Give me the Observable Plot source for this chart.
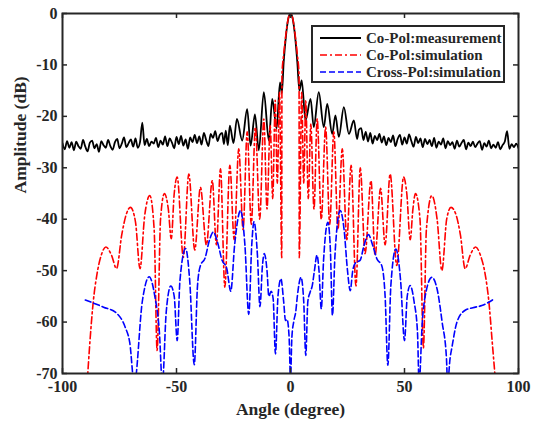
<!DOCTYPE html>
<html><head><meta charset="utf-8">
<script src="https://cdn.jsdelivr.net/npm/d3@7"></script>
<script src="https://cdn.jsdelivr.net/npm/@observablehq/plot@0.6"></script>
<style>
body{margin:0;background:#fff;}
#wrap{position:relative;width:538px;height:427px;}
#legend{position:absolute;left:311px;top:25px;}
</style></head><body><div id="wrap"></div>
<script>
// ---- data ----
const xTicks = [-100, -50, 0, 50, 100];
const yTicks = [0, -10, -20, -30, -40, -50, -60, -70];
const seriesNames = ["Co-Pol:measurement", "Co-Pol:simulation", "Cross-Pol:simulation"];

// measurement, -100 .. -31 (1 deg grid)
const blackLeftDb = [
  -25.2,-26.4,-24.8,-26.1,-25.0,-26.6,-24.9,-25.8,-26.3,-24.6,
  -25.9,-26.8,-25.1,-24.7,-26.2,-25.4,-26.9,-24.8,-25.6,-26.1,
  -24.6,-25.8,-26.5,-25.0,-24.4,-26.2,-25.3,-24.1,-26.0,-25.2,
  -24.5,-25.9,-24.3,-26.1,-25.0,-21.2,-25.6,-24.4,-25.8,-24.9,
  -25.3,-24.2,-26.0,-24.7,-25.5,-23.9,-25.8,-24.3,-25.1,-26.2,
  -24.0,-25.4,-23.8,-25.7,-24.5,-26.3,-24.1,-25.0,-23.6,-25.2,
  -23.9,-25.5,-23.2,-24.6,-25.8,-23.4,-24.2,-22.9,-24.8,-23.6
];
// measurement, central region
const blackCenterAngle = [-30,-29.2,-28.4,-27.5,-26.6,-25,-23.5,-21.2,-19,-17.5,-15.6,-13.9,-11.7,-9.5,-8,-6.1,-4.6,-3.8,-3,-2,-1,0,1,2,3,3.9,4.9,6.6,8.8,10.2,12.4,14.6,16.1,18.3,19.7,21.2,23.4,25.6,27.8,29.2,30];
const blackCenterDb = [-23.2,-25.4,-22.8,-25.6,-21.8,-25.2,-20.5,-24.7,-18.6,-25.7,-19.6,-26.6,-15.3,-24.7,-16.6,-22.4,-13.4,-15.5,-9.5,-4.4,-1.1,0,-1.1,-4.4,-9.5,-15.0,-13.0,-20.8,-16.6,-22.1,-15.3,-22.1,-17.6,-23.4,-19.8,-24.0,-18.2,-23.4,-20.8,-24.4,-22.6];
// measurement, 31 .. 100 (1 deg grid)
const blackRightDb = [
  -22.3,-24.6,-23.0,-24.9,-23.2,-25.3,-23.8,-24.6,-23.4,-25.1,
  -23.9,-25.6,-24.2,-25.0,-23.7,-25.8,-24.4,-23.6,-25.5,-24.1,
  -25.3,-23.5,-24.8,-25.9,-24.0,-25.2,-24.3,-26.0,-24.4,-25.4,
  -24.6,-25.8,-24.2,-26.1,-24.9,-25.5,-24.3,-26.2,-24.8,-25.6,
  -25.0,-26.3,-24.7,-25.9,-25.2,-24.6,-26.4,-25.1,-25.8,-24.9,
  -26.0,-25.3,-24.8,-26.5,-25.2,-25.9,-24.7,-26.2,-25.5,-26.1,
  -25.0,-26.4,-25.6,-24.9,-22.9,-26.3,-25.4,-26.0,-25.3,-26.2
];

// co-pol simulation [angle, dB]
const redPts = [[-89.2,-72],[-88,-64],[-86.5,-56],[-85,-51],[-83,-47],[-81,-45.4],[-78.5,-47],[-76.3,-49.6],[-74,-43],[-72,-39],[-70.2,-37.7],[-68,-40.5],[-66,-49.6],[-64,-39.5],[-61.7,-35.4],[-59.8,-42],[-58.5,-65.5],[-57,-40],[-55.3,-35],[-53.6,-38],[-52.3,-43.8],[-51,-35],[-49.7,-31.8],[-47,-47.4],[-44.6,-31.2],[-42,-46],[-39.5,-33.8],[-36.9,-45],[-34.3,-32.5],[-32.5,-45],[-30.7,-30.2],[-28.8,-53.2],[-26.6,-29.5],[-24.7,-44],[-22.7,-26.3],[-20.8,-42],[-19,-23],[-17.2,-41],[-15.4,-22.1],[-13.5,-40],[-11.7,-20.5],[-10.3,-38],[-8.9,-21.8],[-7.8,-36],[-6.7,-16.9],[-5.8,-33],[-4.8,-15.3],[-3.85,-47.5],[-3.75,-12],[-3,-8],[-2,-4],[-1,-1],[0,0],[1,-1],[2,-4],[3,-8],[3.75,-12],[3.85,-47.5],[4.9,-15.3],[5.8,-33],[6.7,-17],[7.8,-36],[8.9,-21.5],[10.3,-38],[11.7,-20.5],[13.5,-40],[15.4,-22.1],[17.2,-41],[19,-23],[20.8,-42],[22.7,-26.3],[24.7,-44],[26.6,-29.5],[28.7,-53],[30.6,-30],[32.7,-46.7],[35.3,-32.5],[37.1,-47],[39.5,-34],[41.5,-45],[43.7,-31.2],[46.6,-49],[49.6,-31.8],[51,-35],[52.5,-44],[53.7,-38],[54.8,-35],[56.8,-40],[58.3,-65],[59.6,-42],[62,-35.4],[64.3,-40],[66.4,-50],[68.5,-40],[70.4,-37.7],[72.5,-39],[74.5,-43],[76.6,-49.6],[78.8,-47],[81.2,-45.4],[83.3,-47],[85.5,-51],[87,-56],[88.5,-64],[90,-72]];

// cross-pol simulation [angle, dB]
const bluePts = [[-90,-55.7],[-82,-57.1],[-76.5,-58.2],[-72.5,-61],[-70.5,-64],[-68.5,-72],[-65,-56],[-62,-51.2],[-59.5,-55],[-57.5,-62],[-56.2,-72],[-54.5,-58],[-52.5,-53],[-51,-55],[-49.7,-63.6],[-48.5,-52],[-46,-45.7],[-44.2,-52],[-42.2,-68.3],[-40.8,-53],[-39.5,-49],[-37.5,-47.6],[-35.5,-44],[-33.9,-42.5],[-32,-44.5],[-30,-48],[-28,-49.5],[-26.2,-54],[-24.5,-45],[-21.9,-38.3],[-20,-45],[-18.3,-58.5],[-17,-45],[-16,-40.5],[-14.5,-47],[-13.4,-57],[-12.3,-49],[-11.5,-46.7],[-10.3,-50],[-9.5,-55],[-8.5,-54],[-7.6,-55.5],[-6.6,-66.2],[-5.5,-55],[-4.2,-51.6],[-3,-56],[-2.2,-59.7],[-1.5,-59.5],[-0.6,-63],[0,-71],[0.6,-63],[1.5,-59.7],[2.3,-58],[3,-55],[4.6,-51.3],[5.8,-56],[6.7,-66.5],[7.6,-56],[8.6,-54.2],[9.5,-53],[10.5,-50],[11.6,-47],[12.5,-50],[13.5,-57.4],[14.5,-48],[16.4,-40.6],[17.5,-46],[18.4,-58.7],[19.5,-47],[21.8,-38.3],[23.5,-42],[25,-50],[26.2,-53.9],[27.3,-50],[28.7,-48.4],[30.5,-48],[32.3,-45],[34.2,-43],[36,-45],[37.9,-47.7],[40,-49],[41.5,-55],[42.7,-68.4],[44,-53],[46.2,-45.8],[48.3,-52],[50,-63.6],[51.2,-55],[52.5,-52.9],[54.2,-56],[55.7,-62],[56.4,-72],[57.8,-60],[59.5,-54],[62,-51.3],[64.5,-54],[66.5,-60],[68.4,-67],[68.9,-72],[70,-67],[70.8,-64.9],[73,-60],[76.6,-57.7],[80,-57.2],[83.9,-56.8],[88.6,-55.7]];

// ---- assemble ----
const black = [
  ...blackLeftDb.map((v, i) => ({a: -100 + i, v})),
  ...blackCenterAngle.map((a, i) => ({a, v: blackCenterDb[i]})),
  ...blackRightDb.map((v, i) => ({a: 31 + i, v}))
];
const red = redPts.map(([a, v]) => ({a, v}));
const blue = bluePts.map(([a, v]) => ({a, v}));

const colors = ["#000000", "#ff0000", "#0000ff"];
const dashes = [null, "7,3,2,3", "6,3"];
const textColor = "#262626";

const plot = Plot.plot({
  width: 538, height: 427,
  marginLeft: 62, marginRight: 20, marginTop: 13, marginBottom: 54,
  style: {fontFamily: "'Liberation Serif','Times New Roman',serif", fontWeight: "bold", fontSize: "16px", color: textColor, background: "#fff"},
  x: {domain: [-100, 100], label: null},
  y: {domain: [-70, 0], label: null},
  marks: [
    Plot.line(black, {x: "a", y: "v", stroke: colors[0], strokeWidth: 1.8, curve: "monotone-x", clip: true}),
    Plot.line(red, {x: "a", y: "v", stroke: colors[1], strokeWidth: 1.6, strokeDasharray: dashes[1], curve: "monotone-x", clip: true}),
    Plot.line(blue, {x: "a", y: "v", stroke: colors[2], strokeWidth: 1.6, strokeDasharray: dashes[2], curve: "monotone-x", clip: true}),
    Plot.ruleX(xTicks, {x: d => d, insetTop: 355, stroke: textColor, strokeWidth: 1.5}),
    Plot.ruleX(xTicks, {x: d => d, insetBottom: 355, stroke: textColor, strokeWidth: 1.5}),
    Plot.ruleY(yTicks, {y: d => d, insetRight: 451, stroke: textColor, strokeWidth: 1.5}),
    Plot.ruleY(yTicks, {y: d => d, insetLeft: 451, stroke: textColor, strokeWidth: 1.5}),
    Plot.frame({stroke: textColor, strokeWidth: 2}),
    Plot.axisX({ticks: xTicks, tickSize: 0, tickPadding: 7, tickFormat: d => String(d), label: null}),
    Plot.axisY({ticks: yTicks, tickSize: 0, tickPadding: 5, tickFormat: d => String(d), label: null}),
    Plot.text(["Angle (degree)"], {text: d => d, frameAnchor: "bottom", dy: 41, fontSize: 17.5, fill: textColor}),
    Plot.text(["Amplitude (dB)"], {text: d => d, frameAnchor: "left", dx: -42, rotate: -90, fontSize: 17.5, fill: textColor})
  ]
});
document.getElementById("wrap").appendChild(plot);

// ---- legend (inside plot, top right) ----
const lg = d3.select("#wrap").append("svg").attr("id", "legend")
  .attr("width", 194).attr("height", 58)
  .style("font-family", "'Liberation Serif','Times New Roman',serif")
  .style("font-weight", "bold").style("font-size", "15px");
lg.append("rect").attr("x", 1).attr("y", 1).attr("width", 192).attr("height", 56)
  .attr("fill", "#fff").attr("stroke", textColor).attr("stroke-width", 2);
seriesNames.forEach((name, i) => {
  const cy = 13 + i * 17;
  lg.append("line").attr("x1", 9).attr("x2", 50).attr("y1", cy).attr("y2", cy)
    .attr("stroke", colors[i]).attr("stroke-width", i === 0 ? 1.8 : 1.7)
    .attr("stroke-dasharray", dashes[i]);
  lg.append("text").attr("x", 55).attr("y", cy).attr("dy", "0.35em")
    .attr("fill", textColor).text(name);
});
</script>
</body></html>
